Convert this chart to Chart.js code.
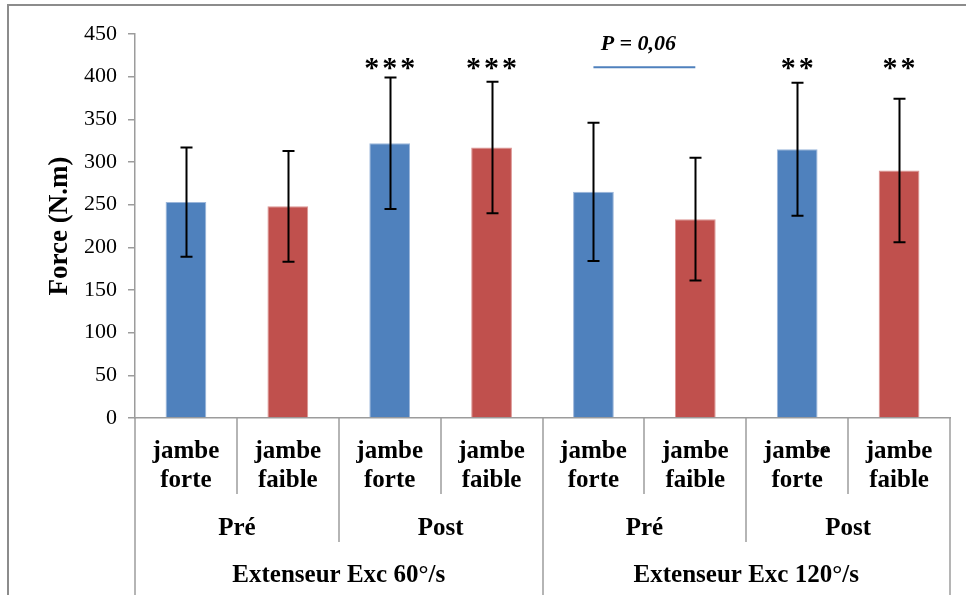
<!DOCTYPE html>
<html>
<head>
<meta charset="utf-8">
<script src="https://cdn.jsdelivr.net/npm/chart.js@4/dist/chart.umd.min.js"></script>
<style>
  html, body { margin: 0; padding: 0; background: #fff; }
  canvas { display: block; }
</style>
</head>
<body>
<canvas id="chart" width="966" height="595"></canvas>
<script>
// Leg tested (bottom row of the category axis)
const legLabels = [
  ['jambe', 'forte'], ['jambe', 'faible'],
  ['jambe', 'forte'], ['jambe', 'faible'],
  ['jambe', 'forte'], ['jambe', 'faible'],
  ['jambe', 'forte'], ['jambe', 'faible']
];
// Session (middle row, two legs each)
const phases = ['Pré', 'Post', 'Pré', 'Post'];
// Test condition (top row, four legs each)
const tests = ['Extenseur Exc 60°/s', 'Extenseur Exc 120°/s'];

// Mean eccentric extensor force (N.m) and standard deviation
const forceMean = [253, 248, 322, 317, 265, 233, 315, 290];
const forceSD   = [64, 65, 77, 77, 81, 72, 78, 84];

// Significance markers above each bar
const significance = ['', '', '***', '***', '', '', '**', '**'];
// Trend between the two Pré bars at 120°/s
const trendLabel = 'P = 0,06';
const trendPair = [4, 5];

// Y axis range
const yMin = 0, yMax = 450, yStep = 50;

const BLUE = '#4f81bd';
const RED = '#c0504d';
const AXIS = '#9c9c9c';
const SERIF = '"Liberation Serif", "Times New Roman", serif';

const annotations = {
  id: 'annotations',
  afterDatasetsDraw(chart) {
    const { ctx, scales: { x, y } } = chart;
    ctx.save();
    // error bars
    ctx.strokeStyle = '#000';
    ctx.lineWidth = 2;
    forceMean.forEach((m, i) => {
      const cx = Math.round(x.getPixelForValue(i)) + 0.5;
      const top = y.getPixelForValue(m + forceSD[i]);
      const bot = y.getPixelForValue(m - forceSD[i]);
      ctx.beginPath();
      ctx.moveTo(cx, top); ctx.lineTo(cx, bot);
      ctx.moveTo(cx - 6, top); ctx.lineTo(cx + 6, top);
      ctx.moveTo(cx - 6, bot); ctx.lineTo(cx + 6, bot);
      ctx.stroke();
    });

    // significance stars
    ctx.fillStyle = '#000';
    ctx.font = 'bold 30px ' + SERIF;
    ctx.textAlign = 'center';
    ctx.textBaseline = 'alphabetic';
    const starY = y.getPixelForValue(400);
    significance.forEach((s, i) => {
      const n = s.length;
      const cx = x.getPixelForValue(i);
      for (let k = 0; k < n; k++) {
        ctx.fillText('*', cx + (k - (n - 1) / 2) * 18, starY);
      }
    });

    // trend line and p-value
    const x1 = x.getPixelForValue(trendPair[0]);
    const x2 = x.getPixelForValue(trendPair[1]);
    const lineY = y.getPixelForValue(411);
    ctx.strokeStyle = BLUE;
    ctx.lineWidth = 2;
    ctx.beginPath();
    ctx.moveTo(x1, lineY); ctx.lineTo(x2, lineY);
    ctx.stroke();
    ctx.font = 'italic bold 22px ' + SERIF;
    ctx.fillText(trendLabel, (x1 + x2) / 2 - 6, y.getPixelForValue(431));
    ctx.restore();
  },
  afterDraw(chart) {
    const { ctx, chartArea, scales: { x } } = chart;
    const y0 = chartArea.bottom;
    const H = chart.height;
    const px = i => x.getPixelForValue(i);
    ctx.save();

    // separators of the multi-level category axis
    ctx.strokeStyle = AXIS;
    ctx.lineWidth = 1.5;
    for (let k = 0; k <= legLabels.length; k++) {
      let bx;
      if (k === 0) bx = chartArea.left;
      else if (k === legLabels.length) bx = chartArea.right;
      else bx = (px(k - 1) + px(k)) / 2;
      bx = Math.round(bx);
      let len;
      if (k % 4 === 0) len = H - y0;
      else if (k % 2 === 0) len = 124;
      else len = 76;
      ctx.beginPath();
      ctx.moveTo(bx, y0); ctx.lineTo(bx, y0 + len);
      ctx.stroke();
    }

    // category labels
    ctx.fillStyle = '#000';
    ctx.textAlign = 'center';
    ctx.textBaseline = 'alphabetic';
    ctx.font = 'bold 25px ' + SERIF;
    legLabels.forEach((lines, i) => {
      lines.forEach((t, j) => ctx.fillText(t, px(i), y0 + 40 + j * 29));
    });
    phases.forEach((t, g) => {
      ctx.fillText(t, (px(g * 2) + px(g * 2 + 1)) / 2, y0 + 117);
    });
    tests.forEach((t, g) => {
      const l = (g === 0) ? chartArea.left : (px(g * 4 - 1) + px(g * 4)) / 2;
      const r = (g === tests.length - 1) ? chartArea.right : (px(g * 4 + 3) + px(g * 4 + 4)) / 2;
      ctx.fillText(t, (l + r) / 2, y0 + 164);
    });
    // stray marker sitting on the seventh leg label
    ctx.font = 'bold 15px ' + SERIF;
    ctx.fillText('**', px(6) + 23, y0 + 39);

    // outer frame
    ctx.strokeStyle = '#8c8c8c';
    ctx.lineWidth = 2;
    ctx.beginPath();
    ctx.moveTo(8, H); ctx.lineTo(8, 5); ctx.lineTo(chart.width, 5);
    ctx.stroke();
    ctx.restore();
  }
};

new Chart(document.getElementById('chart'), {
  type: 'bar',
  data: {
    labels: legLabels.map(l => l.join(' ')),
    datasets: [{
      data: forceMean,
      backgroundColor: forceMean.map((_, i) => i % 2 === 0 ? BLUE : RED),
      borderColor: forceMean.map((_, i) => i % 2 === 0 ? '#9bb6da' : '#dc9593'),
      borderWidth: 1,
      borderSkipped: 'bottom',
      categoryPercentage: 1,
      barPercentage: 0.4
    }]
  },
  options: {
    responsive: false,
    animation: false,
    events: [],
    layout: { padding: { top: 34, right: 16, bottom: 0, left: 0 } },
    plugins: { legend: { display: false }, tooltip: { enabled: false } },
    scales: {
      x: {
        type: 'category',
        offset: true,
        grid: { display: false },
        border: { display: true, color: AXIS, width: 1.5 },
        ticks: { display: false },
        afterFit(s) { s.height = 177; }
      },
      y: {
        min: yMin,
        max: yMax,
        ticks: {
          stepSize: yStep,
          color: '#000',
          padding: 11,
          font: { family: SERIF, size: 22 }
        },
        grid: { drawOnChartArea: false, drawTicks: true, tickLength: 7, color: AXIS, lineWidth: 1.5 },
        border: { display: true, color: AXIS, width: 1.5 },
        title: {
          display: true,
          text: 'Force (N.m)',
          color: '#000',
          font: { family: SERIF, size: 27, weight: 'bold' },
          padding: { top: 44, bottom: 0 }
        },
        afterFit(s) { s.width = 135; }
      }
    }
  },
  plugins: [annotations]
});
</script>
</body>
</html>
